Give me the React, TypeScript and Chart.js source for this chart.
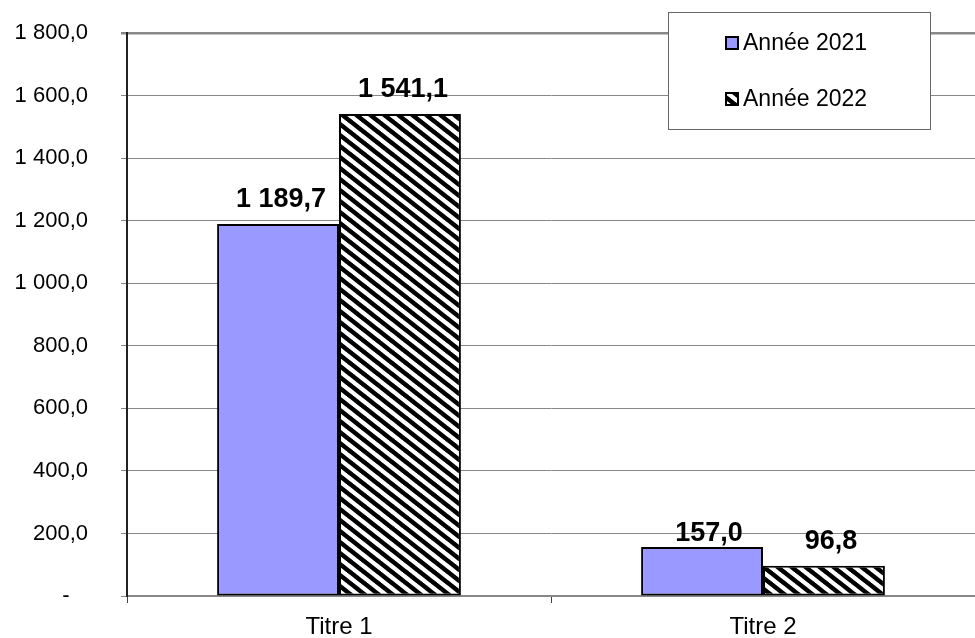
import React, { useEffect, useRef } from "react";
import { Chart, registerables } from "chart.js";

Chart.register(...registerables);

const categories = ["Titre 1", "Titre 2"];
const seriesNames = ["Année 2021", "Année 2022"];
const values2021 = [1189.7, 157.0];
const values2022 = [1541.1, 96.8];
const yTicks = [0, 200, 400, 600, 800, 1000, 1200, 1400, 1600, 1800];

const FONT = "'Liberation Sans', Arial, sans-serif";
const BLUE = "#9999FF";

function fmt(v: number): string {
  if (v === 0) return "-   ";
  const fixed = v.toFixed(1);
  const [ip, dp] = fixed.split(".");
  const withSpaces = ip.replace(/\B(?=(\d{3})+(?!\d))/g, " ");
  return withSpaces + "," + dp;
}

function makeHatch(): CanvasPattern | string {
  const W = 14;
  const H = 11;
  const c = document.createElement("canvas");
  c.width = W;
  c.height = H;
  const ctx = c.getContext("2d");
  if (!ctx) return "#000";
  ctx.fillStyle = "#fff";
  ctx.fillRect(0, 0, W, H);
  ctx.strokeStyle = "#000";
  ctx.lineWidth = 4.5;
  ctx.lineCap = "square";
  for (const dx of [-W, 0, W]) {
    ctx.beginPath();
    ctx.moveTo(dx, 0);
    ctx.lineTo(dx + W, H);
    ctx.stroke();
  }
  const p = ctx.createPattern(c, "repeat");
  return p || "#000";
}

export default function App() {
  const ref = useRef<HTMLCanvasElement | null>(null);

  useEffect(() => {
    document.body.style.margin = "0";
    const canvas = ref.current;
    if (!canvas) return;
    const hatch = makeHatch();

    const labelPlugin = {
      id: "valueLabels",
      afterDatasetsDraw(chart: any) {
        const ctx = chart.ctx;
        ctx.save();
        ctx.font = `bold 27px ${FONT}`;
        ctx.fillStyle = "#000";
        ctx.textAlign = "center";
        ctx.textBaseline = "alphabetic";
        chart.data.datasets.forEach((ds: any, di: number) => {
          const meta = chart.getDatasetMeta(di);
          meta.data.forEach((bar: any, i: number) => {
            const v = ds.data[i] as number;
            const gap = i === 1 && di === 0 ? 6 : 17;
            const dx = i === 1 ? 7 : 3;
            ctx.fillText(fmt(v), bar.x + dx, bar.y - gap);
          });
        });
        ctx.restore();
      },
    };

    const legendPlugin = {
      id: "boxLegend",
      afterDraw(chart: any) {
        const ctx = chart.ctx;
        ctx.save();
        const x0 = 668.5, y0 = 12.5, w = 262, h = 117;
        ctx.fillStyle = "#fff";
        ctx.fillRect(x0, y0, w, h);
        ctx.strokeStyle = "#666";
        ctx.lineWidth = 1;
        ctx.strokeRect(x0, y0, w, h);
        const fills = [BLUE, hatch];
        const ys = [43, 99];
        ctx.font = `23px ${FONT}`;
        ctx.textBaseline = "middle";
        ctx.textAlign = "left";
        seriesNames.forEach((name, i) => {
          const my = ys[i] - 6;
          ctx.fillStyle = fills[i] as any;
          ctx.fillRect(726, my, 12, 12);
          ctx.strokeStyle = "#000";
          ctx.lineWidth = 2;
          ctx.strokeRect(726, my, 12, 12);
          ctx.fillStyle = "#000";
          ctx.fillText(name, 743, ys[i] + 1);
        });
        ctx.restore();
      },
    };

    const chart = new Chart(canvas, {
      type: "bar",
      data: {
        labels: categories,
        datasets: [
          {
            label: seriesNames[0],
            data: values2021,
            backgroundColor: BLUE,
            borderColor: "#000",
            borderWidth: 2,
            borderSkipped: false,
            categoryPercentage: 0.575,
            barPercentage: 1,
          },
          {
            label: seriesNames[1],
            data: values2022,
            backgroundColor: hatch as any,
            borderColor: "#000",
            borderWidth: 2,
            borderSkipped: false,
            categoryPercentage: 0.575,
            barPercentage: 1,
          },
        ],
      },
      options: {
        animation: false,
        responsive: false,
        maintainAspectRatio: false,
        devicePixelRatio: 1,
        layout: { padding: { top: 33, right: 0, bottom: 0, left: 0 } },
        plugins: {
          legend: { display: false },
          tooltip: { enabled: false },
          title: { display: false },
        },
        scales: {
          x: {
            grid: {
              display: true,
              drawOnChartArea: false,
              drawTicks: true,
              tickLength: 7,
              color: "#444",
              offset: true,
            },
            border: { display: true, color: "#888", width: 2 },
            ticks: {
              color: "#000",
              font: { family: FONT, size: 24 },
              padding: 10,
            },
            afterFit(scale: any) {
              scale.height = 42;
              scale.paddingLeft = 0;
              scale.paddingRight = 0;
            },
          },
          y: {
            min: 0,
            max: 1800,
            afterBuildTicks(scale: any) {
              scale.ticks = yTicks.map((v) => ({ value: v }));
            },
            grid: {
              color: "#888",
              lineWidth: (c: any) => (c.tick && c.tick.value === 1800 ? 2.5 : 1),
              tickLength: 6,
              drawTicks: true,
            },
            border: { display: true, color: "#222", width: 2 },
            ticks: {
              color: "#000",
              font: { family: FONT, size: 22 },
              padding: 33,
              callback: (v: any) => fmt(Number(v)),
            },
            afterFit(scale: any) {
              scale.width = 127;
              scale.paddingTop = 12;
              scale.paddingBottom = 12;
            },
          },
        },
      },
      plugins: [labelPlugin, legendPlugin],
    });

    return () => {
      chart.destroy();
    };
  }, []);

  return (
    <div style={{ width: 975, height: 638 }}>
      <canvas ref={ref} width={975} height={638} style={{ display: "block" }} />
    </div>
  );
}
